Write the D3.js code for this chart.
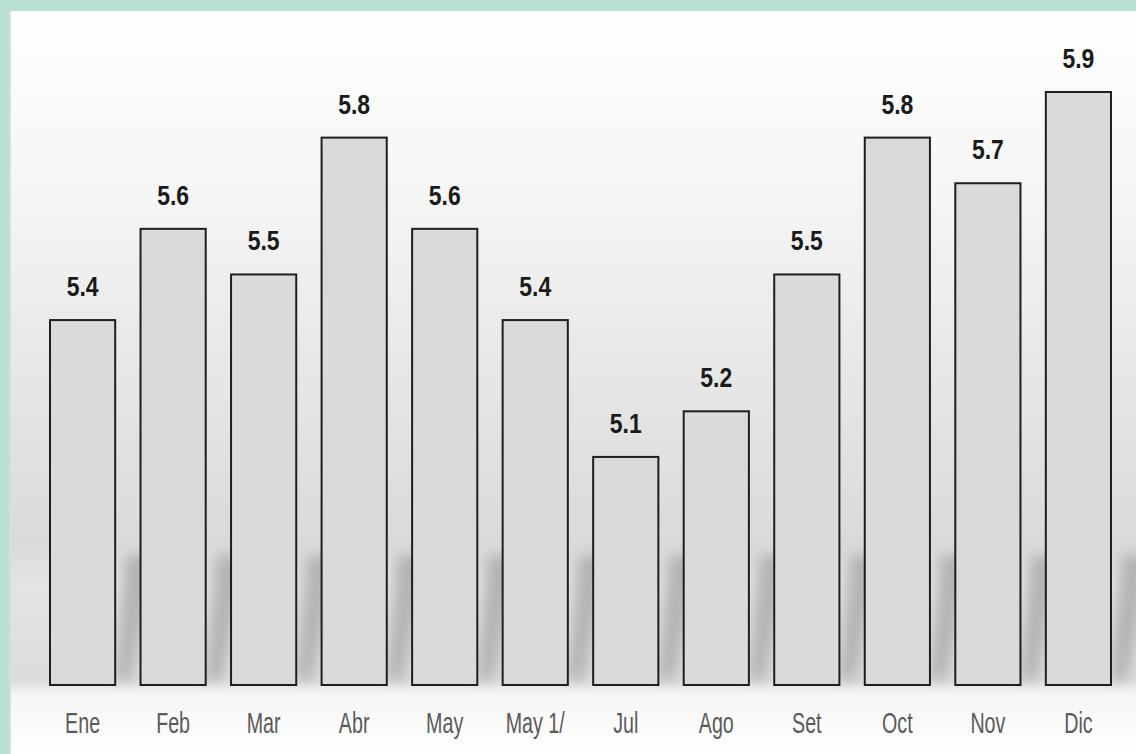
<!DOCTYPE html>
<meta charset="utf-8">
<script src="https://d3js.org/d3.v7.min.js"></script>
<style>
  body { margin: 0; background: #b7e0d3; }
</style>
<svg id="chart" width="1136" height="754"></svg>
<script>

  // data
  var months = ["Ene", "Feb", "Mar", "Abr", "May", "May 1/", "Jul", "Ago", "Set", "Oct", "Nov", "Dic"];
  var values = [5.4, 5.6, 5.5, 5.8, 5.6, 5.4, 5.1, 5.2, 5.5, 5.8, 5.7, 5.9];

  var svg = d3.select("#chart"),
      width = +svg.attr("width"),
      height = +svg.attr("height");

  var defs = svg.append("defs");

  // background of the panel: light top, grey middle, white floor
  var bg = defs.append("linearGradient")
      .attr("id", "bg")
      .attr("x1", 0).attr("y1", 0).attr("x2", 0).attr("y2", 1);
  [[0, "#ffffff"], [0.25, "#f5f5f5"], [0.5, "#e6e6e6"], [0.72, "#dadada"],
   [0.77, "#e4e4e4"], [0.9, "#dcdcdc"], [0.92, "#f6f6f6"], [1, "#ffffff"]]
    .forEach(function(s) {
      bg.append("stop").attr("offset", s[0]).attr("stop-color", s[1]);
    });

  defs.append("filter")
      .attr("id", "blur")
      .attr("x", "-50%").attr("y", "-50%").attr("width", "200%").attr("height", "200%")
    .append("feGaussianBlur")
      .attr("stdDeviation", 7);

  // panel
  svg.append("rect")
      .attr("x", 9).attr("y", 11)
      .attr("width", width - 9).attr("height", height - 11)
      .attr("fill", "url(#bg)");
  svg.append("line")
      .attr("x1", 10).attr("x2", 10).attr("y1", 11).attr("y2", height)
      .style("stroke", "#dcdcdc").style("stroke-width", 2);

  // scales
  var x = d3.scaleBand()
      .domain(months)
      .range([50, 1111])
      .paddingInner(0.28)
      .paddingOuter(0);

  var y = d3.scaleLinear()
      .domain([4.6, 5.9])
      .range([685, 92]);

  var data = months.map(function(m, i) { return {month: m, value: values[i]}; });

  // soft shadows behind the bars
  svg.append("g")
      .attr("filter", "url(#blur)")
      .selectAll("path")
      .data(data)
      .enter().append("path")
        .attr("d", function(d) {
          var xr = x(d.month) + x.bandwidth();
          var y0 = y.range()[0] - 5, y1 = y0 - 125;
          return "M" + xr + "," + y0 + "L" + (xr + 16) + "," + y0 +
                 "L" + (xr + 42) + "," + y1 + "L" + (xr + 10) + "," + y1 + "Z";
        })
        .attr("fill", "#a0a0a0")
        .attr("opacity", 0.7);

  // bars
  svg.append("g")
      .selectAll("rect")
      .data(data)
      .enter().append("rect")
        .attr("x", function(d) { return x(d.month); })
        .attr("y", function(d) { return y(d.value); })
        .attr("width", x.bandwidth())
        .attr("height", function(d) { return y.range()[0] - y(d.value); })
        .attr("fill", "#dadada")
        .style("stroke", "#1e1e1e")
        .style("stroke-width", 2);

  // value labels
  svg.append("g")
      .selectAll("text")
      .data(data)
      .enter().append("text")
        .attr("transform", function(d) {
          return "translate(" + (x(d.month) + x.bandwidth() / 2) + "," + (y(d.value) - 24) + ") scale(0.82,1)";
        })
        .attr("text-anchor", "middle")
        .style("font-family", "'Liberation Sans', sans-serif")
        .style("font-weight", "bold")
        .style("font-size", "28px")
        .style("fill", "#1a1a1a")
        .text(function(d) { return d.value.toFixed(1); });

  // category labels
  svg.append("g")
      .selectAll("text")
      .data(months)
      .enter().append("text")
        .attr("transform", function(d) {
          return "translate(" + (x(d) + x.bandwidth() / 2) + ",733) scale(0.82,1.2)";
        })
        .attr("text-anchor", "middle")
        .style("font-family", "'Liberation Sans', sans-serif")
        .style("font-size", "24px")
        .style("fill", "#5a5a5a")
        .text(function(d) { return d; });

</script>
